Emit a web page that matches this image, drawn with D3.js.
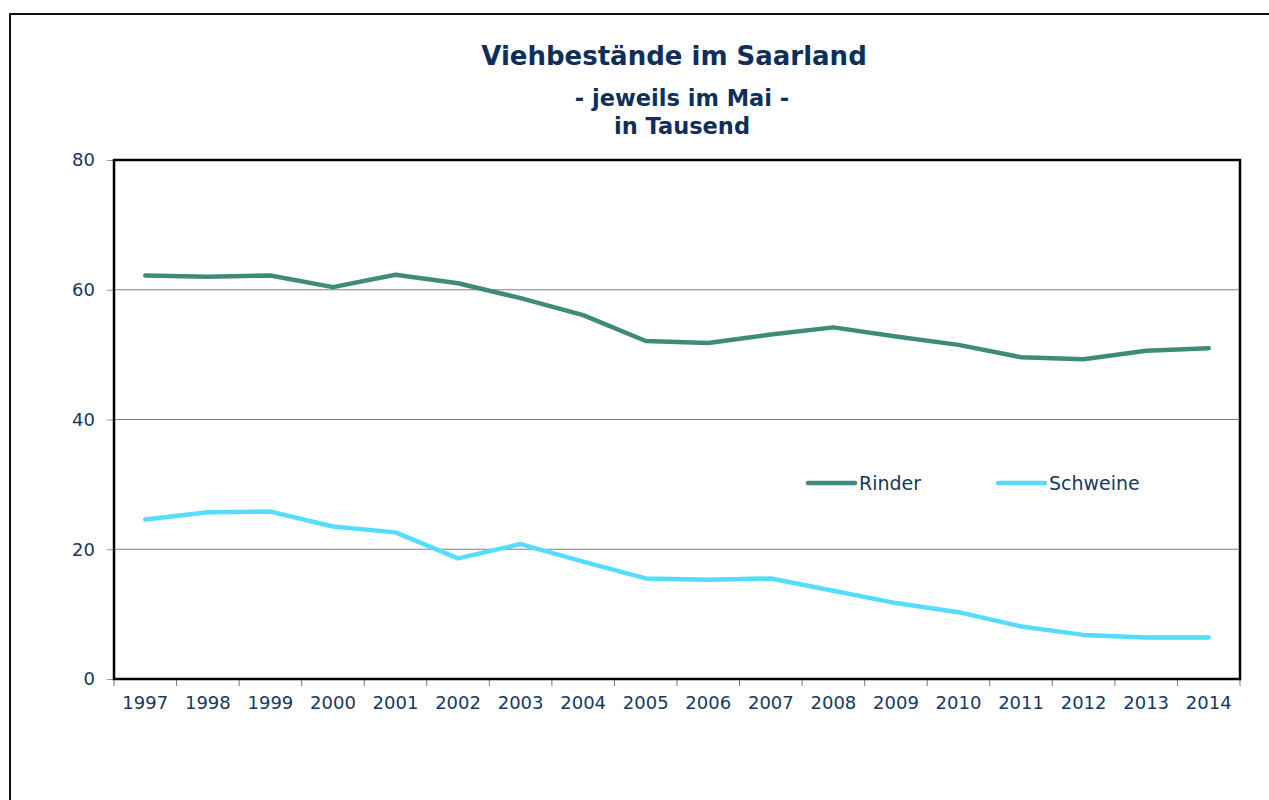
<!DOCTYPE html>
<html><head><meta charset="utf-8">
<script src="https://cdn.jsdelivr.net/npm/d3@7"></script>
<style>
html,body{margin:0;padding:0;background:#fff;}
svg{display:block;font-family:"DejaVu Sans",Verdana,sans-serif;}
</style></head>
<body><svg id="c" width="1269" height="800"></svg>
<script>
const years = ["1997","1998","1999","2000","2001","2002","2003","2004","2005","2006","2007","2008","2009","2010","2011","2012","2013","2014"];
const rinder = [62.2,62.0,62.2,60.4,62.3,61.0,58.7,56.1,52.1,51.8,53.1,54.2,52.8,51.5,49.6,49.3,50.6,51.0];
const schweine = [24.6,25.7,25.8,23.5,22.6,18.6,20.8,18.1,15.5,15.3,15.5,13.6,11.7,10.3,8.1,6.8,6.4,6.4];
const seriesNames = ["Rinder","Schweine"];
const yTicks = [0,20,40,60,80];
const titleLines = ["Viehbestände im Saarland","- jeweils im Mai -","in Tausend"];

const svg = d3.select("#c");
const textColor = "#17375e";
const colors = ["#3e8b7a","#55dcff"];
const L=114, T=160, R=1240, B=679;

// outer frame
svg.append("rect").attr("x",10).attr("y",14).attr("width",1400).attr("height",1000)
  .attr("fill","none").attr("stroke","#111").attr("stroke-width",2);

const x = d3.scaleBand().domain(years).range([L,R]);
const y = d3.scaleLinear().domain([0,80]).range([B,T]);

// gridlines
svg.append("g").selectAll("line").data(yTicks.filter(d=>d>0 && d<80)).join("line")
  .attr("x1",L).attr("x2",R).attr("y1",d=>y(d)).attr("y2",d=>y(d))
  .attr("stroke","#808080").attr("stroke-width",1);

// y axis
const ya = svg.append("g").attr("transform",`translate(${L},0)`)
  .call(d3.axisLeft(y).tickValues(yTicks).tickSize(7).tickPadding(12));
ya.select(".domain").remove();
ya.selectAll(".tick line").attr("stroke","#999");
ya.selectAll(".tick text").attr("fill",textColor).attr("font-size",18)
  .attr("font-family","DejaVu Sans,Verdana,sans-serif");

// x axis ticks at band boundaries
const xa = svg.append("g").attr("transform",`translate(0,${B})`)
  .call(d3.axisBottom(x).tickSize(0).tickPadding(17));
xa.select(".domain").remove();
xa.selectAll(".tick text").attr("fill",textColor).attr("font-size",18)
  .attr("font-family","DejaVu Sans,Verdana,sans-serif");
svg.append("g").selectAll("line").data(years.concat(["end"])).join("line")
  .attr("x1",(d,i)=>L+i*x.bandwidth()).attr("x2",(d,i)=>L+i*x.bandwidth())
  .attr("y1",B).attr("y2",B+7).attr("stroke","#777").attr("stroke-width",1);

// plot border
svg.append("rect").attr("x",L).attr("y",T).attr("width",R-L).attr("height",B-T)
  .attr("fill","none").attr("stroke","#000").attr("stroke-width",2.5);

// lines
const line = d3.line().x((d,i)=>x(years[i])+x.bandwidth()/2).y(d=>y(d));
[rinder,schweine].forEach((s,k)=>{
  svg.append("path").datum(s).attr("d",line).attr("fill","none")
    .attr("stroke",colors[k]).attr("stroke-width",4.5)
    .attr("stroke-linejoin","round").attr("stroke-linecap","round");
});

// legend
const lg = [{x:808},{x:998}];
seriesNames.forEach((n,k)=>{
  svg.append("line").attr("x1",lg[k].x).attr("x2",lg[k].x+47).attr("y1",483).attr("y2",483)
    .attr("stroke",colors[k]).attr("stroke-width",4.5).attr("stroke-linecap","round");
  svg.append("text").attr("x",lg[k].x+51).attr("y",483).attr("dy","0.35em")
    .attr("fill",textColor).attr("font-size",19).text(n);
});

// titles
const tc = "#0e2f5a";
svg.append("text").attr("x",674).attr("y",65).attr("text-anchor","middle")
  .attr("fill",tc).attr("font-weight","bold").attr("font-size",26).text(titleLines[0]);
svg.append("text").attr("x",682).attr("y",106).attr("text-anchor","middle")
  .attr("fill",tc).attr("font-weight","bold").attr("font-size",22.5).text(titleLines[1]);
svg.append("text").attr("x",682).attr("y",134).attr("text-anchor","middle")
  .attr("fill",tc).attr("font-weight","bold").attr("font-size",22.5).text(titleLines[2]);
</script></body></html>
